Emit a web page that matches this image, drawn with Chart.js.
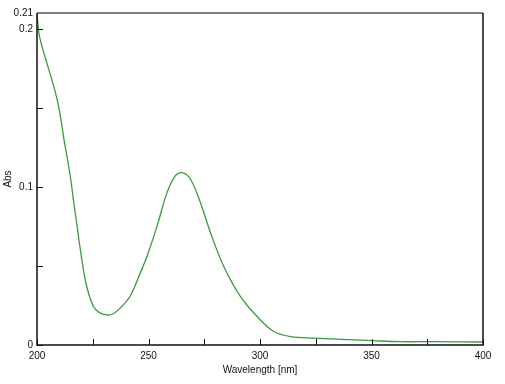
<!DOCTYPE html>
<html lang="en">
<head>
    <meta charset="UTF-8"/>
    <title>Absorbance Spectrum</title>
    <script src="https://cdn.jsdelivr.net/npm/chart.js"></script>
    <style>
        html, body {
            margin: 0;
            padding: 0;
            background: #fff;
            width: 505px;
            height: 384px;
            overflow: hidden;
        }
        .chart-box {
            position: relative;
            width: 505px;
            height: 384px;
        }
    </style>
</head>
<body>
<div class="chart-box">
    <canvas id="spectrumChart"></canvas>
</div>

<script>
    // Wavelength (nm) and absorbance
    const wavelengths = [200, 200.9, 202.8, 204.5, 206.6, 208.9, 210.7, 212.1, 213.6, 215.1, 216.5, 217.8, 220.1, 222.3, 225.3, 228, 231.3, 234, 237.3, 241.8, 246.3, 249.3, 253.8, 258.3, 262, 265, 268.8, 273.3, 277.8, 283.7, 291.2, 298.7, 306.2, 313.7, 324, 336, 350, 363, 378, 400];
    const absorbance  = [0.210, 0.197, 0.186, 0.178, 0.168, 0.156, 0.143, 0.130, 0.118, 0.105, 0.090, 0.077, 0.054, 0.037, 0.0244, 0.0205, 0.019, 0.0196, 0.0233, 0.031, 0.0456, 0.056, 0.075, 0.0964, 0.107, 0.109, 0.105, 0.090, 0.071, 0.0498, 0.0307, 0.018, 0.0085, 0.0053, 0.0043, 0.0036, 0.0028, 0.0021, 0.0021, 0.0019];

    // Axis ticks
    const xMajorTicks = [200, 250, 300, 350, 400];
    const xMinorTicks = [225, 275, 325, 375];
    const yMajorTicks = [0, 0.1, 0.2, 0.21];
    const yTickLabels = ['0', '0.1', '0.2', '0.21'];
    const yMinorTicks = [0.05, 0.15];

    const fontFamily = '"Liberation Sans", Arial, sans-serif';

    // frame and inward tick marks
    const framePlugin = {
        id: 'frame',
        afterDatasetsDraw(chart) {
            const { ctx, chartArea: a, scales } = chart;
            ctx.save();
            ctx.lineWidth = 1.5;
            ctx.strokeStyle = '#555';
            ctx.beginPath();
            ctx.moveTo(a.left, a.top);
            ctx.lineTo(a.right, a.top);
            ctx.stroke();
            ctx.strokeStyle = '#111';
            ctx.beginPath();
            ctx.moveTo(a.right, a.top);
            ctx.lineTo(a.right, a.bottom);
            ctx.lineTo(a.left, a.bottom);
            ctx.lineTo(a.left, a.top);
            ctx.stroke();

            ctx.lineWidth = 1;
            ctx.strokeStyle = '#111';
            ctx.beginPath();
            xMajorTicks.concat(xMinorTicks).forEach(v => {
                const x = Math.round(scales.x.getPixelForValue(v)) + 0.5;
                ctx.moveTo(x, a.bottom);
                ctx.lineTo(x, a.bottom - 6);
            });
            yMajorTicks.concat(yMinorTicks).forEach(v => {
                if (v === 0.21) return;
                const y = Math.round(scales.y.getPixelForValue(v)) + 0.5;
                ctx.moveTo(a.left, y);
                ctx.lineTo(a.left + 6, y);
            });
            ctx.stroke();
            ctx.restore();
        }
    };

    const ctx = document.getElementById('spectrumChart').getContext('2d');

    new Chart(ctx, {
        type: 'line',
        data: {
            datasets: [{
                data: wavelengths.map((w, i) => ({ x: w, y: absorbance[i] })),
                borderColor: '#3a9a3a',
                borderWidth: 1.3,
                pointRadius: 0,
                tension: 0.35,
                fill: false
            }]
        },
        options: {
            responsive: true,
            maintainAspectRatio: false,
            animation: false,
            layout: {
                padding: { top: 13, right: 22, left: 0, bottom: 0 }
            },
            plugins: {
                legend: { display: false },
                tooltip: { enabled: false }
            },
            scales: {
                x: {
                    type: 'linear',
                    min: 200,
                    max: 400,
                    afterBuildTicks: scale => {
                        scale.ticks = xMajorTicks.map(v => ({ value: v }));
                    },
                    afterFit: scale => { scale.height = 39; },
                    grid: { display: false, drawTicks: false, tickLength: 0 },
                    border: { display: false },
                    ticks: {
                        color: '#111',
                        padding: 5,
                        maxRotation: 0,
                        autoSkip: false,
                        font: { family: fontFamily, size: 10 }
                    },
                    title: {
                        display: true,
                        text: 'Wavelength [nm]',
                        color: '#111',
                        font: { family: fontFamily, size: 10 },
                        padding: { top: 0, bottom: 8 }
                    }
                },
                y: {
                    type: 'linear',
                    min: 0,
                    max: 0.21,
                    afterBuildTicks: scale => {
                        scale.ticks = yMajorTicks.map(v => ({ value: v }));
                    },
                    afterFit: scale => { scale.width = 37; },
                    grid: { display: false, drawTicks: false, tickLength: 0 },
                    border: { display: false },
                    ticks: {
                        color: '#111',
                        padding: 4,
                        autoSkip: false,
                        font: { family: fontFamily, size: 10 },
                        callback: value => {
                            const i = yMajorTicks.indexOf(value);
                            return i >= 0 ? yTickLabels[i] : '';
                        }
                    },
                    title: {
                        display: true,
                        text: 'Abs',
                        color: '#111',
                        font: { family: fontFamily, size: 10 },
                        padding: { top: 2, bottom: 0 }
                    }
                }
            }
        },
        plugins: [framePlugin]
    });
</script>
</body>
</html>
